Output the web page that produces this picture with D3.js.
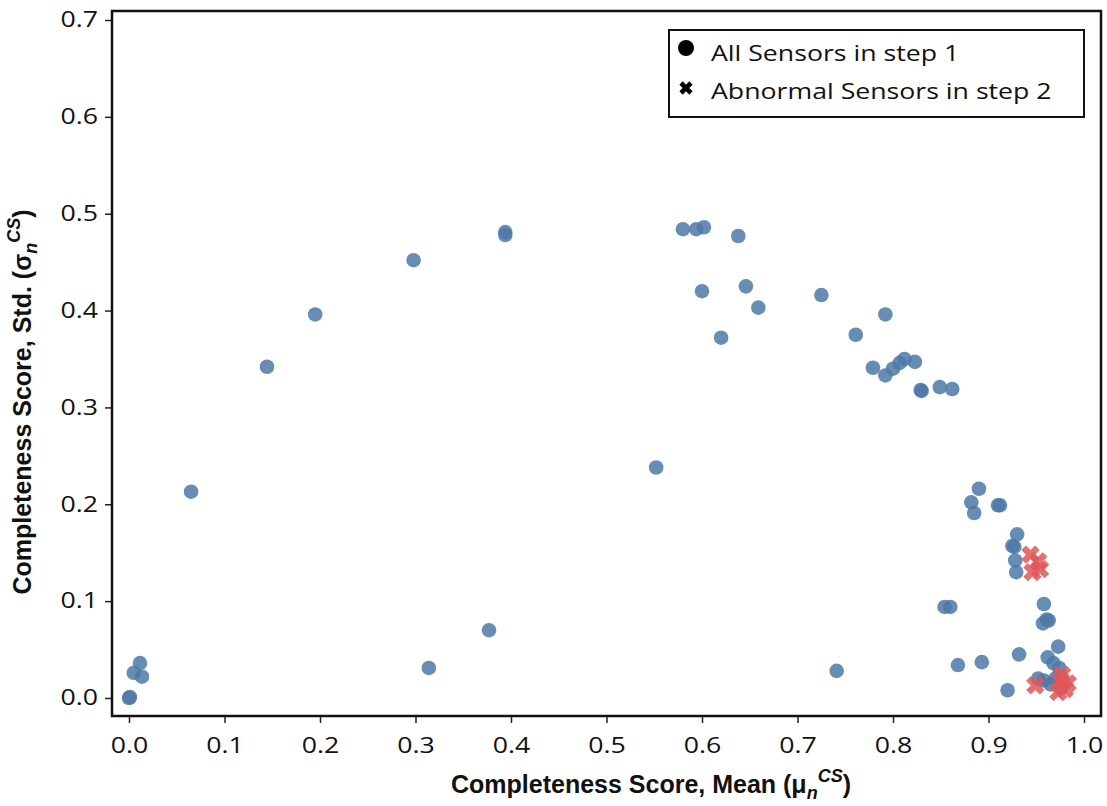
<!DOCTYPE html>
<html><head><meta charset="utf-8">
<script src="https://cdn.jsdelivr.net/npm/d3@7"></script>
<style>body{margin:0;background:#fff;} svg{display:block;}</style>
</head><body>
<svg id="c" width="1107" height="806"></svg>
<script>
const xTicks = [0,0.1,0.2,0.3,0.4,0.5,0.6,0.7,0.8,0.9,1.0];
const yTicks = [0,0.1,0.2,0.3,0.4,0.5,0.6,0.7];
const allX = [0.000,0.001,0.005,0.0115,0.0136,0.065,0.1445,0.195,0.298,0.394,0.394,0.314,0.377,0.552,
  0.580,0.594,0.602,0.638,0.600,0.646,0.659,0.620,0.725,0.761,0.779,0.792,0.800,0.807,0.812,0.823,
  0.829,0.830,0.849,0.862,0.792,0.741,0.890,0.882,0.885,0.910,0.912,0.930,0.925,0.927,0.928,0.929,
  0.854,0.860,0.958,0.961,0.963,0.957,0.973,0.932,0.893,0.868,0.962,0.968,0.974,0.920,0.952,0.958,
  0.965,0.970,0.976];
const allY = [0.000,0.001,0.026,0.036,0.022,0.213,0.342,0.396,0.452,0.481,0.478,0.031,0.070,0.238,
  0.484,0.484,0.486,0.477,0.420,0.425,0.403,0.372,0.416,0.375,0.341,0.333,0.340,0.346,0.350,0.347,
  0.318,0.317,0.321,0.319,0.396,0.028,0.216,0.202,0.191,0.199,0.199,0.169,0.157,0.156,0.142,0.130,
  0.094,0.094,0.097,0.081,0.080,0.077,0.053,0.045,0.037,0.034,0.042,0.036,0.031,0.008,0.020,0.018,
  0.014,0.020,0.010];
const abnX = [0.944,0.952,0.954,0.946,0.949,0.977,0.983,0.980,0.973,0.976];
const abnY = [0.148,0.141,0.133,0.130,0.013,0.024,0.015,0.009,0.006,0.018];
const legendLabels = ["All Sensors in step 1","Abnormal Sensors in step 2"];

const svg = d3.select("#c");
const L=112, R=1101, T=11, B=716;
const x = d3.scaleLinear().domain([-0.0178,1.0178]).range([L,R]);
const y = d3.scaleLinear().domain([-0.0186,0.7093]).range([B,T]);
const tickFont = "'Open Sans', sans-serif";
const sx = 1.27;

const xa = svg.append("g").attr("transform",`translate(0,${B})`)
  .call(d3.axisBottom(x).tickValues(xTicks).tickFormat(d3.format(".1f")).tickSize(7).tickPadding(15));
const ya = svg.append("g").attr("transform",`translate(${L},0)`)
  .call(d3.axisLeft(y).tickValues(yTicks).tickFormat(d3.format(".1f")).tickSize(7).tickPadding(7));
[xa,ya].forEach(a=>{
  a.select(".domain").remove();
  a.selectAll("line").attr("stroke","#222").attr("stroke-width",1.5);
  a.selectAll("text").attr("font-family",tickFont).attr("font-size",21).attr("fill","#111")
    .attr("transform",`scale(${sx},1)`);
});
ya.selectAll("text").attr("x",-14/sx);

svg.append("rect").attr("x",L).attr("y",T).attr("width",R-L).attr("height",B-T)
  .attr("fill","none").attr("stroke","#111").attr("stroke-width",2.5);

const blue="#4e79a7", red="#e15759";
svg.append("g").selectAll("circle").data(allX.map((v,i)=>[v,allY[i]])).join("circle")
  .attr("cx",d=>x(d[0])).attr("cy",d=>y(d[1])).attr("r",7.3)
  .attr("fill",blue).attr("fill-opacity",0.85);

const cross = d3.symbol().type(d3.symbolCross).size(210);
svg.append("g").selectAll("path").data(abnX.map((v,i)=>[v,abnY[i]])).join("path")
  .attr("d",cross).attr("transform",d=>`translate(${x(d[0])},${y(d[1])}) rotate(45)`)
  .attr("fill",red).attr("fill-opacity",0.85);

// legend
const lg = svg.append("g");
lg.append("rect").attr("x",669).attr("y",30).attr("width",415).attr("height",87)
  .attr("fill","#fff").attr("stroke","#111").attr("stroke-width",2);
lg.append("circle").attr("cx",686).attr("cy",48).attr("r",8).attr("fill","#000");
lg.append("path").attr("d",d3.symbol().type(d3.symbolCross).size(110))
  .attr("transform","translate(686,88) rotate(45)").attr("fill","#000");
legendLabels.forEach((t,i)=>{
  lg.append("text").attr("transform",`translate(711,${61+i*38}) scale(${sx},1)`).text(t)
    .attr("font-family",tickFont).attr("font-size",21).attr("fill","#111");
});

// axis titles
const titleFont = "'Liberation Sans', Arial, sans-serif";
const xt = svg.append("text").attr("x",651).attr("y",793).attr("text-anchor","middle")
  .attr("font-family",titleFont).attr("font-weight","bold").attr("font-size",25).attr("fill","#111");
xt.append("tspan").text("Completeness Score, Mean (μ");
xt.append("tspan").text("n").attr("font-style","italic").attr("font-size",18).attr("dy",6);
xt.append("tspan").text("CS").attr("font-style","italic").attr("font-size",18).attr("dy",-17);
xt.append("tspan").text(")").attr("dy",11);

const yt = svg.append("text").attr("transform","translate(31,402) rotate(-90)").attr("text-anchor","middle")
  .attr("font-family",titleFont).attr("font-weight","bold").attr("font-size",25).attr("fill","#111");
yt.append("tspan").text("Completeness Score, Std. (σ");
yt.append("tspan").text("n").attr("font-style","italic").attr("font-size",18).attr("dy",6);
yt.append("tspan").text("CS").attr("font-style","italic").attr("font-size",18).attr("dy",-17);
yt.append("tspan").text(")").attr("dy",11);
</script>
</body></html>
